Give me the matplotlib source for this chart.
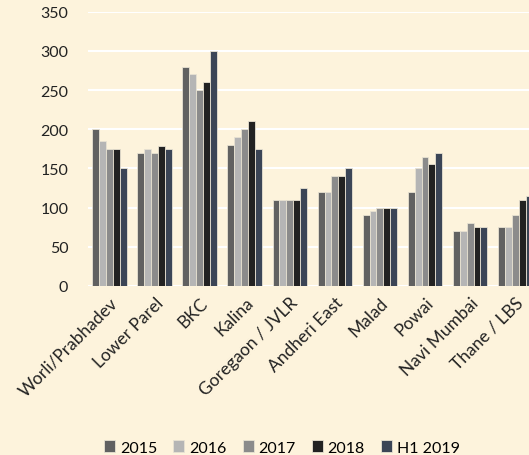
import numpy as np
import matplotlib
matplotlib.use("Agg")
import matplotlib.pyplot as plt

plt.rcParams['font.family'] = ['Lato', 'DejaVu Sans']

# data
locations = ["Worli/Prabhadev", "Lower Parel", "BKC", "Kalina", "Goregaon / JVLR",
             "Andheri East", "Malad", "Powai", "Navi Mumbai", "Thane / LBS"]
series_names = ["2015", "2016", "2017", "2018", "H1 2019"]
v2015 = [200, 170, 280, 180, 110, 120, 90, 120, 70, 75]
v2016 = [185, 175, 270, 190, 110, 120, 95, 150, 70, 75]
v2017 = [175, 170, 250, 200, 110, 140, 100, 165, 80, 90]
v2018 = [175, 178, 260, 210, 110, 140, 100, 155, 75, 110]
vH12019 = [150, 175, 300, 175, 125, 150, 100, 170, 75, 115]
colors = ["#616161", "#b5b5b5", "#8b8b8b", "#222222", "#3b4556"]

bg = "#fdf3dc"
fig = plt.figure(figsize=(5.29, 4.56), dpi=100, facecolor=bg)
ax = fig.add_axes([0.166, 0.371, 0.834, 0.601], facecolor=bg)

x = np.arange(len(locations))
w = 0.155
for i, (vals, c) in enumerate(zip([v2015, v2016, v2017, v2018, vH12019], colors)):
    ax.bar(x + (i - 2) * w, vals, width=w, color=c, edgecolor="#e8e2d2",
           linewidth=0.6, label=series_names[i], zorder=3)

ax.set_ylim(0, 350)
ax.set_yticks(range(0, 351, 50))
ax.set_xlim(-0.49, 9.31)
ax.grid(axis="y", color="white", linewidth=1.5, zorder=0)
ax.set_axisbelow(True)
for s in ax.spines.values():
    s.set_visible(False)
ax.tick_params(length=0, labelsize=11.5, colors="#222222")
ax.tick_params(axis="y", pad=14)
ax.tick_params(axis="x", pad=6)
ax.set_xticks(x)
ax.set_xticklabels(locations, rotation=45, ha="right", rotation_mode="anchor", fontsize=12.5)

ax.legend(loc="center", bbox_to_anchor=(0.44, -0.59), ncol=5,
          frameon=False, fontsize=11.5, handlelength=0.7, handleheight=0.7,
          handletextpad=0.3, columnspacing=1.0)

fig.savefig("out.png", dpi=100, facecolor=bg)
